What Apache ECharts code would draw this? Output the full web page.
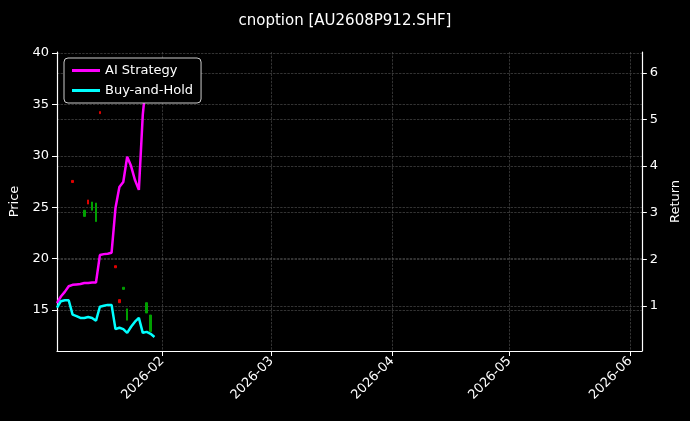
<!DOCTYPE html>
<html>
<head>
<meta charset="utf-8">
<script src="https://cdn.jsdelivr.net/npm/echarts@6/dist/echarts.min.js"></script>
<style>
  html, body { margin: 0; padding: 0; background: #000; }
  #chart { width: 690px; height: 421px; }
</style>
</head>
<body>
<div id="chart"></div>
<script>
// 日期（从 2026-01-05 起的天数偏移）
const dayOffsets = [0, 1, 2, 3, 4, 5, 6, 7, 8, 9, 10, 11, 12, 13, 14, 15, 16, 17, 18, 19, 20, 21, 22, 23, 24, 25];
const aiStrategy = [1.06, 1.2, 1.3, 1.42, 1.45, 1.46, 1.47, 1.49, 1.49, 1.5, 1.5, 2.09, 2.11, 2.12, 2.14, 3.1, 3.55, 3.66, 4.2, 4.0, 3.7, 3.49, 5.1, 5.96, 6.3, null];
const buyHold = [0.96, 1.1, 1.12, 1.12, 0.81, 0.78, 0.74, 0.74, 0.76, 0.74, 0.68, 0.98, 1.0, 1.02, 1.02, 0.5, 0.53, 0.5, 0.42, 0.55, 0.66, 0.74, 0.42, 0.44, 0.4, 0.33];
// K线: [天数偏移, open, close, low, high]
const candles = [
  [4, 27.4, 27.6, 27.4, 27.6],
  [7, 24.7, 24.1, 24.1, 24.7],
  [8, 25.3, 25.7, 25.3, 25.7],
  [9, 25.5, 24.7, 24.7, 25.5],
  [10, 25.4, 23.6, 23.6, 25.4],
  [11, 34.1, 34.3, 34.1, 34.3],
  [15, 19.1, 19.3, 19.1, 19.3],
  [16, 15.7, 16.0, 15.7, 16.0],
  [17, 17.2, 17.0, 17.0, 17.2],
  [18, 15.1, 14.0, 14.0, 15.1],
  [23, 15.7, 14.7, 14.7, 15.7],
  [24, 14.5, 12.9, 12.9, 14.5]
];
const priceTicks = [15, 20, 25, 30, 35, 40];
const returnTicks = [1, 2, 3, 4, 5, 6];
const monthTicks = ['2026-02-01', '2026-03-01', '2026-04-01', '2026-05-01', '2026-06-01'];

const DAY = 86400000;
const start = Date.UTC(2026, 0, 5);
const toTime = d => start + d * DAY;
const monthTimes = monthTicks.map(s => Date.parse(s));

const chart = echarts.init(document.getElementById('chart'));
const gridLine = { show: true, lineStyle: { color: '#555', type: 'dashed', width: 0.6 } };
const axisLineWhite = { show: true, lineStyle: { color: '#fff', width: 1.2 } };

chart.setOption({
  backgroundColor: '#000',
  animation: false,
  textStyle: { fontFamily: 'DejaVu Sans' },
  title: {
    text: 'cnoption [AU2608P912.SHF]',
    left: 'center', top: 9,
    textStyle: { color: '#fff', fontSize: 15, fontWeight: 'normal' }
  },
  legend: {
    left: 64, top: 58, orient: 'vertical', itemGap: 7,
    backgroundColor: '#000', borderColor: '#ccc', borderWidth: 1, borderRadius: 4,
    padding: [6, 8], itemWidth: 28, itemHeight: 3,
    textStyle: { color: '#fff', fontSize: 13 },
    data: [
      { name: 'AI Strategy', icon: 'rect' },
      { name: 'Buy-and-Hold', icon: 'rect' }
    ]
  },
  grid: { left: 57, right: 48, top: 52, bottom: 70 },
  xAxis: {
    type: 'value',
    min: start, max: Date.UTC(2026, 5, 4),
    axisLine: axisLineWhite,
    axisTick: { show: true, customValues: monthTimes, lineStyle: { color: '#fff' } },
    axisLabel: {
      customValues: monthTimes,
      rotate: 45, color: '#fff', fontSize: 13, margin: 8,
      formatter: v => { const d = new Date(v); return d.getUTCFullYear() + '-' + String(d.getUTCMonth() + 1).padStart(2, '0'); }
    },
    splitLine: gridLine
  },
  yAxis: [
    {
      type: 'value', min: 11, max: 40.1, position: 'left',
      name: 'Price', nameLocation: 'middle', nameGap: 36,
      nameTextStyle: { color: '#fff', fontSize: 13 },
      axisLine: axisLineWhite,
      axisTick: { show: true, customValues: priceTicks, lineStyle: { color: '#fff' } },
      axisLabel: { customValues: priceTicks, color: '#fff', fontSize: 13 },
      splitLine: gridLine
    },
    {
      type: 'value', min: 0.03, max: 6.45, position: 'right',
      name: 'Return', nameLocation: 'middle', nameGap: 27,
      nameTextStyle: { color: '#fff', fontSize: 13 },
      axisLine: axisLineWhite,
      axisTick: { show: true, customValues: returnTicks, lineStyle: { color: '#fff' } },
      axisLabel: { customValues: returnTicks, color: '#fff', fontSize: 13 },
      splitLine: gridLine
    }
  ],
  series: [
    {
      name: 'K', type: 'candlestick', yAxisIndex: 0, barWidth: 2,
      encode: { x: 0, y: [1, 2, 3, 4] },
      itemStyle: { color: '#e00000', color0: '#00a000', borderColor: '#e00000', borderColor0: '#00a000', borderWidth: 1 },
      data: candles.map(c => [toTime(c[0]), c[1], c[2], c[3], c[4]])
    },
    {
      name: 'AI Strategy', type: 'line', yAxisIndex: 1, showSymbol: false,
      lineStyle: { color: '#ff00ff', width: 2.5 }, itemStyle: { color: '#ff00ff' },
      data: dayOffsets.map((d, i) => [toTime(d), aiStrategy[i]])
    },
    {
      name: 'Buy-and-Hold', type: 'line', yAxisIndex: 1, showSymbol: false,
      lineStyle: { color: '#00ffff', width: 2.5 }, itemStyle: { color: '#00ffff' },
      data: dayOffsets.map((d, i) => [toTime(d), buyHold[i]])
    }
  ]
});
</script>
</body>
</html>
